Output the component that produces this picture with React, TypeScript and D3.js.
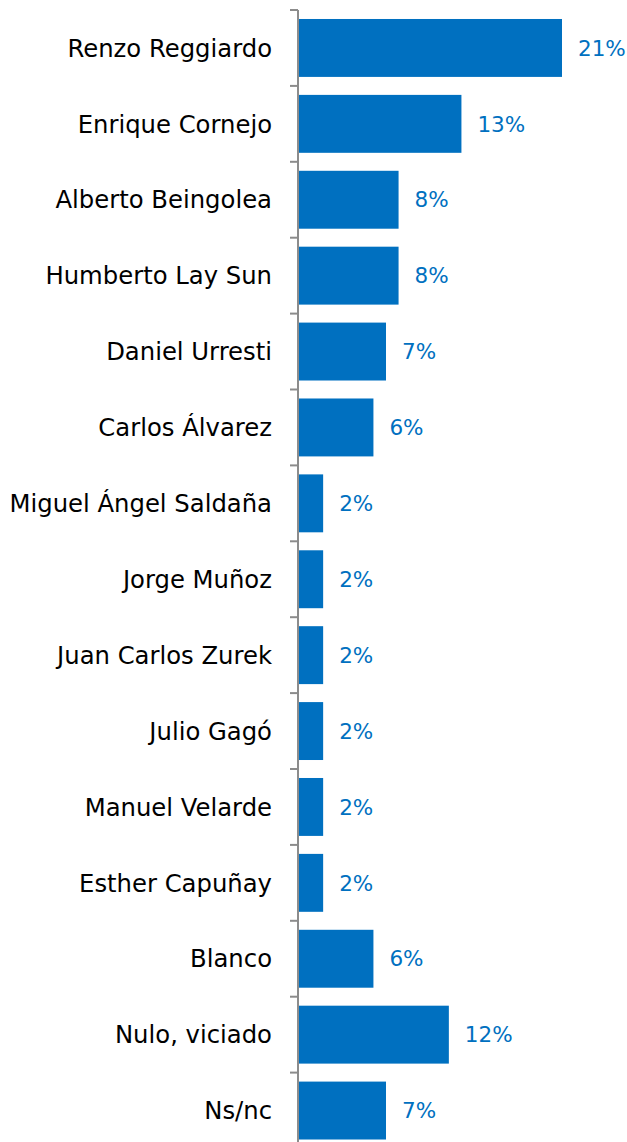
import React from "react";
import * as d3 from "d3";

const categories = [
  "Renzo Reggiardo",
  "Enrique Cornejo",
  "Alberto Beingolea",
  "Humberto Lay Sun",
  "Daniel Urresti",
  "Carlos Álvarez",
  "Miguel Ángel Saldaña",
  "Jorge Muñoz",
  "Juan Carlos Zurek",
  "Julio Gagó",
  "Manuel Velarde",
  "Esther Capuñay",
  "Blanco",
  "Nulo, viciado",
  "Ns/nc",
];
const values = [21, 13, 8, 8, 7, 6, 2, 2, 2, 2, 2, 2, 6, 12, 7];

const W = 627;
const H = 1142;
const axisX = 298;
const FONT = "'DejaVu Sans', sans-serif";

export default function App() {
  const x = d3.scaleLinear().domain([0, 21]).range([axisX, axisX + 264]);
  const step = 75.9;
  const y = d3
    .scaleBand<string>()
    .domain(categories)
    .range([10, 10 + step * categories.length])
    .paddingInner(18 / 76)
    .paddingOuter(9 / 76);
  const ticks = d3.range(categories.length + 1).map((i) => 10 + step * i);

  return (
    <svg
      width={W}
      height={H}
      style={{ position: "absolute", left: 0, top: 0, background: "#fff" }}
    >
      {categories.map((c, i) => (
        <g key={c}>
          <rect
            x={x(0)}
            y={y(c)}
            width={x(values[i]) - x(0)}
            height={y.bandwidth()}
            fill="#0070C0"
          />
          <text
            x={272}
            y={(y(c) as number) + y.bandwidth() / 2}
            dy="0.36em"
            textAnchor="end"
            fontFamily={FONT}
            fontSize={24.3}
            fill="#000"
          >
            {c}
          </text>
          <text
            x={x(values[i]) + 16}
            y={(y(c) as number) + y.bandwidth() / 2}
            dy="0.36em"
            textAnchor="start"
            fontFamily={FONT}
            fontSize={21.5}
            fill="#0070C0"
          >
            {values[i] + "%"}
          </text>
        </g>
      ))}
      <line x1={axisX} x2={axisX} y1={10} y2={H} stroke="#8c8c8c" strokeWidth={2} />
      {ticks.map((t) => (
        <line key={t} x1={290} x2={axisX} y1={t} y2={t} stroke="#8c8c8c" strokeWidth={2} />
      ))}
    </svg>
  );
}
